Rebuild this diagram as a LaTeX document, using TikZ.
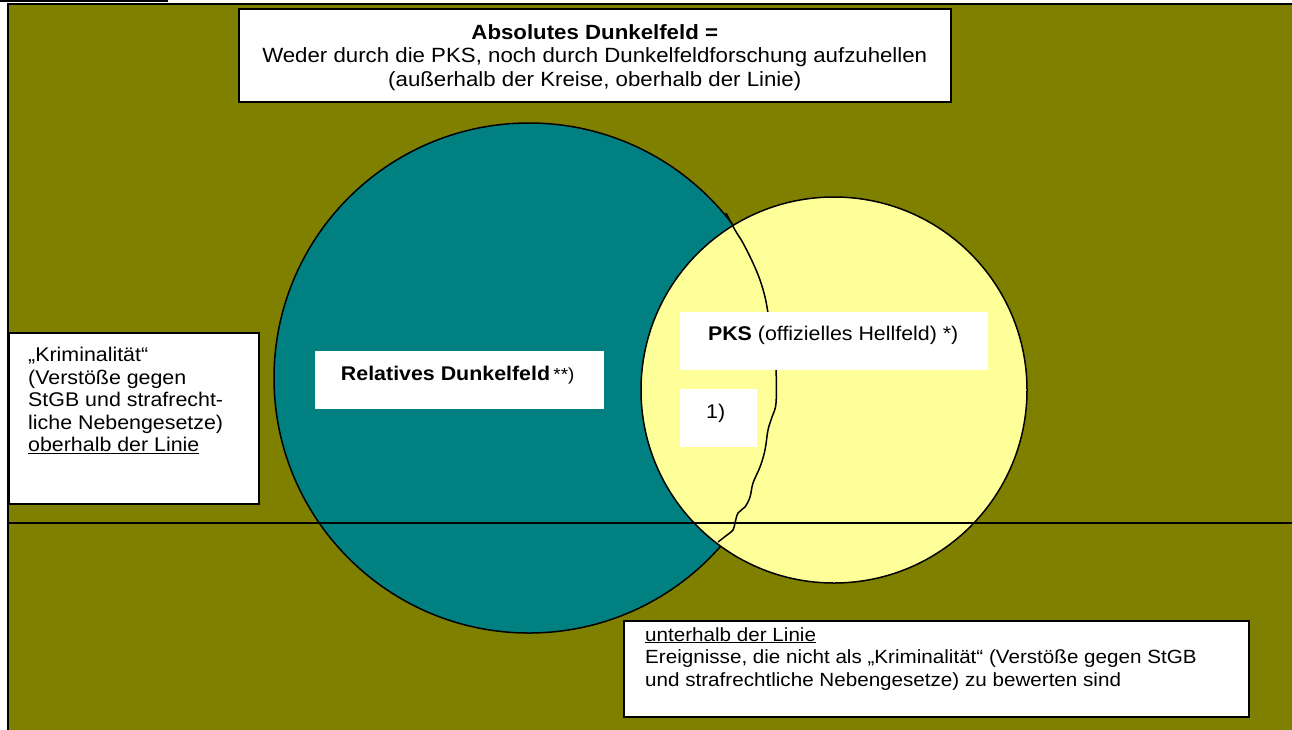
\documentclass[tikz,border=0pt]{standalone}
\usepackage{fontspec}
\setmainfont{Liberation Sans}[FakeStretch=1.08]
\definecolor{olivebg}{HTML}{808000}
\definecolor{tealfield}{HTML}{008080}
\definecolor{pksyellow}{HTML}{FFFF99}

\begin{document}
\begin{tikzpicture}[x=1pt,y=-1pt,
  box/.style={draw=black,line width=1.5pt,fill=white,anchor=north west,inner sep=0pt},
  plainbox/.style={fill=white,anchor=north west,inner sep=0pt},
  txt/.style={inner sep=0pt,font=\fontsize{19.8}{22.5}\selectfont}]
\useasboundingbox (0,0) rectangle (1292,729);

% Background
\draw[line width=1.6pt] (0,0.8) -- (168,0.8);
\draw[line width=2pt,fill=olivebg] (8,4) rectangle (1310,745);

% Circles
\draw[line width=1.5pt,fill=tealfield] (529,378) circle (255);
\draw[line width=1.5pt,fill=pksyellow] (834,390) circle (193);

% Border of the relative dark field
\draw[line width=1.5pt] plot[smooth,tension=0.6] coordinates {
  (726,213) (735,230) (743,243) (753,263) (760,280) (765,297) (768,313)
  (773,343) (776,370) (776,403) (772,417) (768,430) (765,450) (760,467)
  (753,483) (750,497) (745,507) (738,513) (735,523) (733,530) (727,535)
  (718,542)};

% Line
\draw[line width=2pt] (8,523) -- (1292,523);

% Top box
\node[box,minimum width=712,minimum height=93] (absolut) at (238,8) {};
\node[txt,align=center,font=\fontsize{20.6}{23.5}\selectfont] (absoluttext)
  at ([yshift=-2]absolut.center)
  {\textbf{Absolutes Dunkelfeld =}\\
   Weder durch die PKS, noch durch Dunkelfeldforschung aufzuhellen\\
   (außerhalb der Kreise, oberhalb der Linie)};

% Left box
\node[box,minimum width=250,minimum height=171] (krim) at (8,332) {};
\node[txt,align=left,anchor=north west] (krimtext)
  at ([shift={(20,15)}]krim.north west)
  {„Kriminalität“\\
   (Verstöße gegen\\
   StGB und strafrecht-\\
   liche Nebengesetze)\\
   \underline{oberhalb der Linie}};

% Labels in the circles
\node[plainbox,minimum width=289,minimum height=58] (relativ) at (315,351) {};
\node[txt] (relativtext) at ([shift={(-2,-5)}]relativ.center)
  {\textbf{Relatives Dunkelfeld}\,{\fontsize{17.5}{20}\selectfont **)}};

\node[plainbox,minimum width=308,minimum height=58] (pks) at (680,312) {};
\node[txt] (pkstext) at ([shift={(-1,-6)}]pks.center)
  {\textbf{PKS} (offizielles Hellfeld) *)};

\node[plainbox,minimum width=77,minimum height=58] (eins) at (680,389) {};
\node[txt] (einstext) at ([shift={(-3,-5)}]eins.center) {1)};

% Bottom box
\node[box,minimum width=625,minimum height=96] (unten) at (623,620) {};
\node[txt,align=left,anchor=north west,font=\fontsize{19.1}{22.5}\selectfont]
  (untentext) at ([shift={(22,7)}]unten.north west)
  {\underline{unterhalb der Linie}\\
   Ereignisse, die nicht als „Kriminalität“ (Verstöße gegen StGB\\
   und strafrechtliche Nebengesetze) zu bewerten sind};
\end{tikzpicture}
\end{document}
